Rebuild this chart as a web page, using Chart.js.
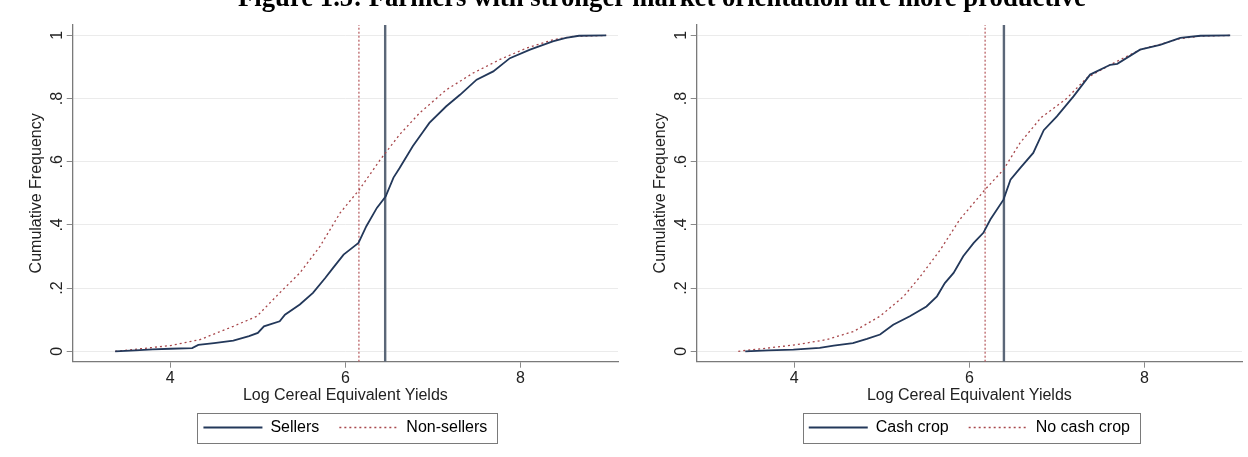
<!DOCTYPE html>
<html>
<head>
<meta charset="utf-8">
<script src="https://cdn.jsdelivr.net/npm/chart.js@4.4.1/dist/chart.umd.min.js"></script>
<style>
  html, body { margin: 0; padding: 0; background: #fff; }
  body { width: 1248px; height: 457px; position: relative; overflow: hidden; }
  #title { position: absolute; left: 238px; top: -15.9px; font: bold 26.7px "Liberation Serif", "Times New Roman", serif;
           line-height: 26.7px; white-space: nowrap; color: #000; z-index: 2; }
  .panel { position: absolute; top: 0; width: 624px; height: 457px; }
</style>
</head>
<body>
<div id="title">Figure 1.5: Farmers with stronger market orientation are more productive</div>
<div class="panel" style="left:0"><canvas id="leftChart"></canvas></div>
<div class="panel" style="left:624px"><canvas id="rightChart"></canvas></div>
<script>
// axis setup
var xMin = 2.885, xMax = 9.115;
var yMin = -0.033, yMax = 1.033;
var xTicks = [4, 6, 8];
var yTicks = [0, 0.2, 0.4, 0.6, 0.8, 1];
var yTickLabels = ['0', '.2', '.4', '.6', '.8', '1'];

// left panel: sellers vs non-sellers (cumulative frequency)
var sellersX = [3.37, 3.6, 3.8, 4.0, 4.25, 4.32, 4.5, 4.72, 4.9, 5.0, 5.07, 5.25, 5.31, 5.48, 5.63, 5.77, 5.86, 5.98, 6.1, 6.15, 6.24, 6.36, 6.46, 6.55, 6.62, 6.77, 6.89, 6.96, 7.15, 7.31, 7.5, 7.69, 7.88, 8.11, 8.37, 8.52, 8.67, 8.98];
var sellersY = [0, 0.003, 0.006, 0.008, 0.01, 0.02, 0.026, 0.034, 0.048, 0.058, 0.079, 0.095, 0.116, 0.148, 0.185, 0.232, 0.264, 0.306, 0.332, 0.343, 0.396, 0.454, 0.49, 0.55, 0.58, 0.649, 0.696, 0.723, 0.775, 0.812, 0.86, 0.886, 0.928, 0.955, 0.981, 0.992, 0.999, 1.0];
var nonSellersX = [3.37, 3.66, 4.0, 4.34, 4.72, 4.99, 5.25, 5.48, 5.71, 5.94, 6.16, 6.4, 6.62, 6.85, 7.155, 7.46, 7.76, 8.07, 8.37, 8.6, 8.98];
var nonSellersY = [0, 0.008, 0.018, 0.037, 0.079, 0.111, 0.185, 0.248, 0.332, 0.438, 0.512, 0.607, 0.686, 0.755, 0.828, 0.881, 0.923, 0.96, 0.986, 0.997, 1.0];
var sellersMedian = 6.455, nonSellersMedian = 6.155;

// right panel: cash crop vs no cash crop
var cashX = [3.44, 3.7, 3.99, 4.29, 4.45, 4.67, 4.83, 4.98, 5.13, 5.32, 5.51, 5.63, 5.72, 5.82, 5.93, 6.05, 6.16, 6.24, 6.39, 6.47, 6.58, 6.73, 6.85, 7.0, 7.19, 7.38, 7.61, 7.69, 7.95, 8.18, 8.41, 8.64, 8.98];
var cashY = [0, 0.003, 0.005, 0.011, 0.018, 0.026, 0.039, 0.053, 0.084, 0.111, 0.142, 0.174, 0.216, 0.248, 0.301, 0.343, 0.375, 0.417, 0.48, 0.543, 0.58, 0.628, 0.70, 0.744, 0.807, 0.876, 0.907, 0.91, 0.955, 0.97, 0.992, 0.999, 1.0];
var noCashX = [3.36, 3.72, 4.03, 4.37, 4.68, 4.98, 5.25, 5.44, 5.67, 5.89, 6.18, 6.39, 6.58, 6.82, 7.11, 7.34, 7.61, 7.95, 8.18, 8.41, 8.64, 8.98];
var noCashY = [0, 0.011, 0.021, 0.037, 0.063, 0.111, 0.174, 0.237, 0.322, 0.417, 0.512, 0.575, 0.66, 0.74, 0.80, 0.865, 0.907, 0.955, 0.972, 0.99, 0.998, 1.0];
var cashMedian = 6.395, noCashMedian = 6.18;

var solidColor = '#23385a';
var dotColor = '#a8474b';
var font = '"Liberation Sans", Arial, sans-serif';
Chart.defaults.font.family = font;
Chart.defaults.color = '#222';

function pts(xs, ys) {
    return xs.map(function (x, i) { return {x: x, y: ys[i]}; });
}

// Stata style legend frame
var legendFrame = {
    id: 'legendFrame',
    afterDraw: function (chart) {
        var lg = chart.legend;
        if (!lg || !lg.legendHitBoxes.length) return;
        var hb = lg.legendHitBoxes;
        var last = hb[hb.length - 1];
        var left = hb[0].left - 6;
        var right = last.left + last.width + 10;
        var mid = lg.top + 20 + 8;
        var ctx = chart.ctx;
        ctx.save();
        ctx.strokeStyle = '#7a7a7a';
        ctx.lineWidth = 1;
        ctx.strokeRect(Math.round(left) + 0.5, Math.round(mid - 15) + 0.5, Math.round(right - left), 30);
        ctx.restore();
    }
};

function makeChart(id, solidLabel, dotLabel, sx, sy, dx, dy, sMed, dMed) {
    var ctx = document.getElementById(id).getContext('2d');
    return new Chart(ctx, {
        type: 'line',
        data: {
            datasets: [{
                label: solidLabel,
                data: pts(sx, sy),
                borderColor: solidColor,
                borderWidth: 1.8,
                pointRadius: 0,
                tension: 0
            }, {
                label: dotLabel,
                data: pts(dx, dy),
                borderColor: dotColor,
                borderWidth: 1.3,
                borderDash: [2, 3],
                pointRadius: 0,
                tension: 0
            }, {
                label: 'median ' + solidLabel,
                data: [{x: sMed, y: yMin}, {x: sMed, y: yMax}],
                borderColor: '#5b6778',
                borderWidth: 2.4,
                pointRadius: 0
            }, {
                label: 'median ' + dotLabel,
                data: [{x: dMed, y: yMin}, {x: dMed, y: yMax}],
                borderColor: '#b5565a',
                borderWidth: 1.2,
                borderDash: [2, 2],
                pointRadius: 0
            }]
        },
        options: {
            responsive: true,
            maintainAspectRatio: false,
            animation: false,
            layout: { padding: { left: 0, right: 6, top: 25, bottom: 11.5 } },
            plugins: {
                tooltip: { enabled: false },
                legend: {
                    position: 'bottom',
                    fullSize: false,
                    labels: {
                        usePointStyle: true,
                        pointStyleWidth: 59,
                        padding: 20,
                        font: { size: 16 },
                        color: '#222',
                        generateLabels: function (chart) {
                            return chart.data.datasets.slice(0, 2).map(function (ds, i) {
                                return {
                                    text: ds.label,
                                    fillStyle: 'rgba(0,0,0,0)',
                                    strokeStyle: ds.borderColor,
                                    lineWidth: ds.borderWidth,
                                    lineDash: ds.borderDash || [],
                                    pointStyle: 'line',
                                    datasetIndex: i
                                };
                            });
                        }
                    }
                }
            },
            scales: {
                x: {
                    type: 'linear',
                    min: xMin,
                    max: xMax,
                    afterBuildTicks: function (s) { s.ticks = xTicks.map(function (v) { return {value: v}; }); },
                    afterFit: function (s) { s.height = 37.8; },
                    grid: { drawOnChartArea: false, tickLength: 6, tickColor: '#8a8a8a' },
                    border: { color: '#7a7a7a', width: 1.3 },
                    ticks: { font: { size: 16 }, color: '#222', padding: 1.7, maxRotation: 0 },
                    title: {
                        display: true,
                        text: 'Log Cereal Equivalent Yields',
                        font: { size: 16, lineHeight: 0.45 },
                        color: '#222',
                        padding: 0
                    }
                },
                y: {
                    type: 'linear',
                    min: yMin,
                    max: yMax,
                    afterBuildTicks: function (s) { s.ticks = yTicks.map(function (v) { return {value: v}; }); },
                    afterFit: function (s) { s.width = 72.7; },
                    grid: { color: '#ebebeb', lineWidth: 1, tickLength: 6, tickColor: '#8a8a8a' },
                    border: { color: '#7a7a7a', width: 1.3 },
                    ticks: {
                        minRotation: 90,
                        maxRotation: 90,
                        crossAlign: 'center',
                        padding: 2,
                        font: { size: 16 },
                        color: '#222',
                        callback: function (v, i) { return yTickLabels[i]; }
                    },
                    title: {
                        display: true,
                        text: 'Cumulative Frequency',
                        font: { size: 16 },
                        color: '#222',
                        padding: { top: 27.1, bottom: 0 }
                    }
                }
            }
        },
        plugins: [legendFrame]
    });
}

makeChart('leftChart', 'Sellers', 'Non-sellers', sellersX, sellersY, nonSellersX, nonSellersY, sellersMedian, nonSellersMedian);
makeChart('rightChart', 'Cash crop', 'No cash crop', cashX, cashY, noCashX, noCashY, cashMedian, noCashMedian);
</script>
</body>
</html>
